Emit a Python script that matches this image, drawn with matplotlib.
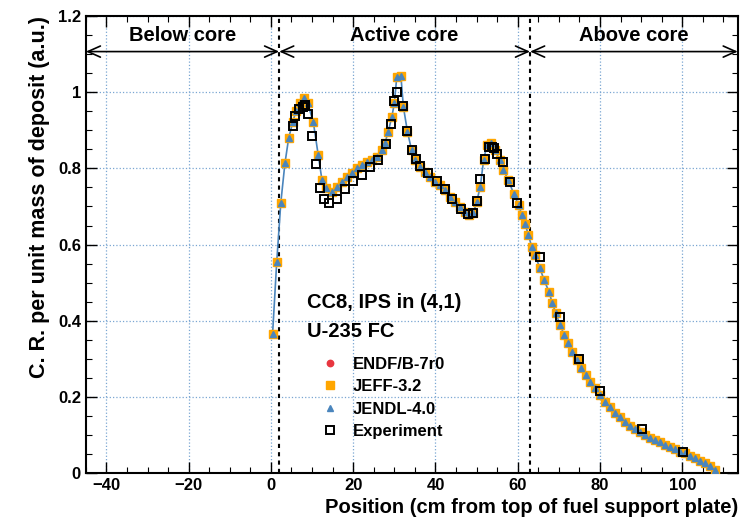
import matplotlib
matplotlib.use("Agg")
import matplotlib.pyplot as plt
from matplotlib.lines import Line2D
from matplotlib.ticker import MultipleLocator

plt.rcParams["font.family"] = ["Liberation Sans", "DejaVu Sans"]
plt.rcParams["font.weight"] = "bold"

# simulation (ENDF/B-7r0, JEFF-3.2, JENDL-4.0 are practically on top of each other)
sim_x = [0.4, 1.4, 2.4, 3.4, 4.3, 5.3, 6.1, 7.1, 8.0, 8.9, 10.3, 11.5, 12.4, 13.5,
         14.8, 16.0, 17.2, 18.4, 19.6, 20.9, 22.1, 23.3, 24.5, 25.7, 26.9, 27.7,
         28.5, 29.4, 30.0, 30.6, 31.6, 32.2, 33.2, 34.2, 35.0, 36.3, 37.5, 38.7,
         39.9, 41.1, 42.3, 43.6, 44.8, 46.0, 47.2, 48.2, 49.2, 50.0, 50.9, 51.7,
         52.5, 53.5, 54.5, 55.6, 56.5, 57.7, 59.0, 60.2, 61.0, 61.8, 62.6, 63.4,
         64.2, 65.4, 66.4, 67.6, 68.4, 69.3, 70.3, 71.3, 72.3, 73.3, 74.4, 75.4,
         76.6, 77.6, 78.8, 80.0, 81.3, 82.5, 83.7, 84.9, 86.1, 87.3, 88.6, 89.8,
         91.0, 92.2, 93.4, 94.6, 95.9, 97.1, 98.3, 99.5, 100.7, 101.9, 103.2,
         104.4, 105.6, 106.8, 108.0]
sim_y = [0.365, 0.553, 0.710, 0.813, 0.879, 0.922, 0.951, 0.972, 0.986, 0.972,
         0.922, 0.835, 0.770, 0.748, 0.739, 0.752, 0.765, 0.778, 0.787, 0.800,
         0.809, 0.817, 0.822, 0.830, 0.848, 0.866, 0.896, 0.936, 0.971, 1.041,
         1.043, 0.962, 0.896, 0.848, 0.822, 0.804, 0.791, 0.778, 0.765, 0.756,
         0.743, 0.726, 0.712, 0.699, 0.686, 0.678, 0.682, 0.712, 0.752, 0.822,
         0.861, 0.866, 0.848, 0.822, 0.796, 0.770, 0.734, 0.704, 0.678, 0.654,
         0.625, 0.594, 0.572, 0.538, 0.507, 0.476, 0.446, 0.419, 0.389, 0.362,
         0.341, 0.319, 0.297, 0.275, 0.257, 0.240, 0.222, 0.205, 0.187, 0.172,
         0.158, 0.146, 0.135, 0.124, 0.116, 0.108, 0.100, 0.093, 0.087, 0.080,
         0.074, 0.067, 0.062, 0.056, 0.052, 0.045, 0.039, 0.032, 0.025, 0.018,
         0.008]
endf_y = sim_y
jeff_y = sim_y
jendl_y = sim_y

exp_x = [5.3, 5.9, 6.9, 7.7, 8.3, 9.0, 10.0, 11.0, 12.0, 12.9, 14.0, 16.0, 18.0,
         20.0, 22.1, 24.1, 26.1, 28.0, 29.1, 30.0, 30.6, 32.0, 33.2, 34.2, 35.2,
         36.3, 38.3, 40.3, 42.3, 44.1, 46.2, 48.0, 49.2, 50.0, 50.9, 52.1, 52.9,
         53.7, 54.3, 54.9, 56.4, 58.2, 59.9, 65.3, 70.2, 75.0, 80.0, 90.2, 100.2]
exp_y = [0.911, 0.937, 0.955, 0.962, 0.966, 0.943, 0.885, 0.811, 0.748, 0.719,
         0.708, 0.719, 0.745, 0.768, 0.784, 0.803, 0.822, 0.864, 0.918, 0.978,
         1.000, 0.964, 0.898, 0.848, 0.824, 0.806, 0.787, 0.768, 0.745, 0.720,
         0.693, 0.680, 0.684, 0.715, 0.771, 0.826, 0.855, 0.855, 0.853, 0.838,
         0.816, 0.765, 0.710, 0.568, 0.410, 0.299, 0.216, 0.115, 0.056]

core_bounds = [2, 63]
regions = ["Below core", "Active core", "Above core"]

RED = "#e8363f"
ORANGE = "#ffa600"
BLUE = "#4a85bd"

fig = plt.figure(figsize=(7.4, 5.22), dpi=100)
ax = fig.add_axes([0.116, 0.094, 0.881, 0.875])

xmin, xmax = -45, 113.5
ax.set_xlim(xmin, xmax)
ax.set_ylim(0, 1.2)

ax.grid(True, which="major", color="#7aa6d2", linestyle=":", linewidth=0.9)
ax.set_axisbelow(True)

ax.plot(sim_x, jendl_y, color=BLUE, lw=1.2, zorder=2)
ax.plot(sim_x, endf_y, "o", color=RED, ms=4.6, ls="none", zorder=3)
ax.plot(sim_x, jeff_y, "s", color=ORANGE, ms=5.2, ls="none", zorder=4)
ax.plot(sim_x, jendl_y, "^", color=BLUE, ms=4.6, ls="none", zorder=5)
ax.plot(exp_x, exp_y, "s", mfc="none", mec="black", mew=1.4, ms=6.3, ls="none", zorder=6)

for b in core_bounds:
    ax.axvline(b, color="black", ls=(0, (2, 2)), lw=1.5, zorder=1)

# region arrows
ya = 1.107
edges = [xmin, core_bounds[0], core_bounds[1], xmax]
for i, name in enumerate(regions):
    ax.annotate("", xy=(edges[i + 1], ya), xytext=(edges[i], ya),
                arrowprops=dict(arrowstyle="<->,head_length=0.9,head_width=0.4",
                                color="black", lw=1.2, shrinkA=0, shrinkB=0))
    ax.text((edges[i] + edges[i + 1]) / 2, 1.148, name, ha="center", va="center",
            fontsize=14.5, fontweight="bold")

ax.xaxis.set_major_locator(MultipleLocator(20))
ax.xaxis.set_minor_locator(MultipleLocator(5))
ax.yaxis.set_major_locator(MultipleLocator(0.2))
ax.yaxis.set_minor_locator(MultipleLocator(0.05))
ax.set_yticks([0, 0.2, 0.4, 0.6, 0.8, 1.0, 1.2])
ax.set_yticklabels(["0", "0.2", "0.4", "0.6", "0.8", "1", "1.2"])
ax.tick_params(which="both", direction="in", top=True, right=True, labelsize=12)
ax.tick_params(which="major", length=8, width=1)
ax.tick_params(which="minor", length=4, width=0.8)
for lab in ax.get_xticklabels() + ax.get_yticklabels():
    lab.set_fontweight("bold")
for s in ax.spines.values():
    s.set_linewidth(1.5)

ax.set_xlabel("Position (cm from top of fuel support plate)", fontsize=14.5,
              fontweight="bold", loc="right", labelpad=4)
ax.set_ylabel("C. R. per unit mass of deposit (a.u.)", fontsize=15.5,
              fontweight="bold", loc="top", labelpad=6)

fig.text(0.415, 0.421, "CC8, IPS in (4,1)", fontsize=14.5, fontweight="bold",
         va="center")
fig.text(0.415, 0.364, "U-235 FC", fontsize=14.5, fontweight="bold", va="center")

handles = [
    Line2D([], [], marker="o", color=RED, ls="none", ms=4.6),
    Line2D([], [], marker="s", color=ORANGE, ls="none", ms=5.2),
    Line2D([], [], marker="^", color=BLUE, ls="none", ms=4.6),
    Line2D([], [], marker="s", mfc="none", mec="black", mew=1.4, ls="none", ms=5.5),
]
labels = ["ENDF/B-7r0", "JEFF-3.2", "JENDL-4.0", "Experiment"]
leg = fig.legend(handles, labels, loc="upper left", bbox_to_anchor=(0.425, 0.333),
                 frameon=False, fontsize=12, handlelength=0.8, handletextpad=1.0,
                 labelspacing=0.45, borderpad=0)
for t in leg.get_texts():
    t.set_fontweight("bold")

fig.savefig("out.png", dpi=100)
